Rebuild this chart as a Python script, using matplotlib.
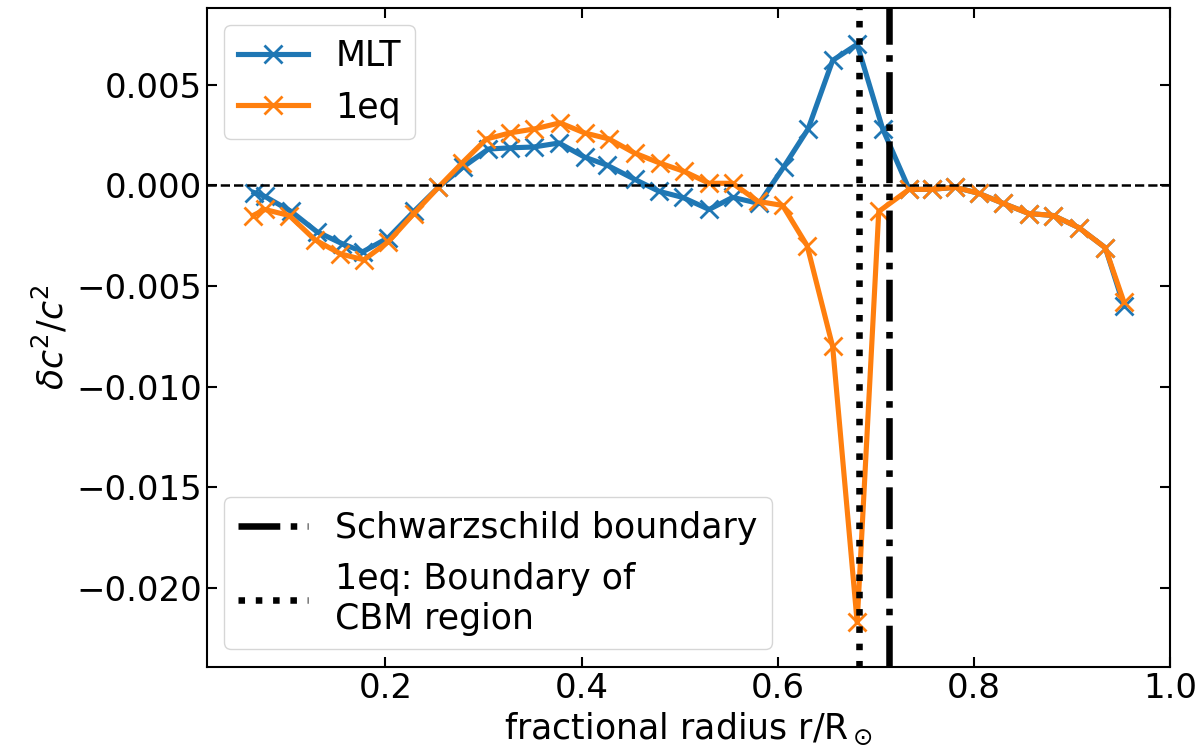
import matplotlib
matplotlib.use("Agg")
import matplotlib.pyplot as plt

# sound speed differences vs solar model
r_mlt = [0.066, 0.077, 0.104, 0.130, 0.156, 0.177, 0.203, 0.229, 0.254, 0.279,
         0.305, 0.327, 0.351, 0.377, 0.403, 0.426, 0.454, 0.479, 0.503, 0.530,
         0.554, 0.581, 0.606, 0.631, 0.656, 0.681, 0.707, 0.734, 0.757, 0.781,
         0.805, 0.830, 0.856, 0.881, 0.907, 0.934, 0.953]
dc_mlt = [-0.00036, -0.00055, -0.0013, -0.0023, -0.0029, -0.0033, -0.0026, -0.0013, -0.0001, 0.0009,
          0.0018, 0.00186, 0.0019, 0.0021, 0.0014, 0.0010, 0.0003, -0.0003, -0.0006, -0.0012,
          -0.0006, -0.0009, 0.0009, 0.0028, 0.0062, 0.0070, 0.0028, -0.0002, -0.0002, -0.0001,
          -0.0004, -0.0009, -0.0014, -0.0015, -0.0021, -0.0031, -0.0060]

r_1eq = [0.065, 0.077, 0.102, 0.128, 0.154, 0.178, 0.203, 0.229, 0.254, 0.278,
         0.303, 0.327, 0.352, 0.378, 0.403, 0.428, 0.454, 0.480, 0.504, 0.530,
         0.554, 0.580, 0.605, 0.630, 0.656, 0.681, 0.703, 0.734, 0.757, 0.781,
         0.805, 0.830, 0.856, 0.881, 0.907, 0.934, 0.953]
dc_1eq = [-0.0015, -0.0012, -0.0015, -0.0027, -0.0034, -0.0037, -0.0028, -0.0014, -0.0001, 0.0011,
          0.0023, 0.0026, 0.0028, 0.0031, 0.0026, 0.0023, 0.0016, 0.0011, 0.0007, 0.0001,
          0.0001, -0.0008, -0.0010, -0.0030, -0.0080, -0.0217, -0.0013, -0.0002, -0.0002, -0.0001,
          -0.0004, -0.0009, -0.0014, -0.0015, -0.0021, -0.0031, -0.0058]

r_schwarzschild = 0.713
r_cbm = 0.683

plt.rcParams['font.size'] = 25

fig = plt.figure(figsize=(12.03, 7.56), dpi=100)
ax = fig.add_axes([0.172, 0.118, 0.8006, 0.8714])

l1, = ax.plot(r_mlt, dc_mlt, color='tab:blue', marker='x', lw=3.7, ms=13, mew=2, label='MLT')
l2, = ax.plot(r_1eq, dc_1eq, color='tab:orange', marker='x', lw=3.7, ms=13, mew=2, label='1eq')
ax.axhline(0, color='k', ls='--', lw=1.8)
v1 = ax.axvline(r_schwarzschild, color='k', ls='-.', lw=4.7, label='Schwarzschild boundary')
v2 = ax.axvline(r_cbm, color='k', ls=':', lw=4.7, label='1eq: Boundary of\nCBM region')

ax.set_xlim(0.018, 1.0)
ax.set_ylim(-0.0239, 0.0088)
ax.set_xticks([0.2, 0.4, 0.6, 0.8, 1.0])
ax.set_yticks([-0.020, -0.015, -0.010, -0.005, 0.0, 0.005])
ax.tick_params(direction='in', top=True, right=True, length=7, width=1.5, labelsize=24.5)
for s in ax.spines.values():
    s.set_linewidth(1.5)

ax.set_xlabel(r'fractional radius r/R$_\odot$')
ax.set_ylabel(r'$\delta c^2/c^2$')

leg1 = ax.legend(handles=[l1, l2], loc='upper left')
ax.add_artist(leg1)
ax.legend(handles=[v1, v2], loc='lower left')

plt.savefig('out.png', dpi=100)
